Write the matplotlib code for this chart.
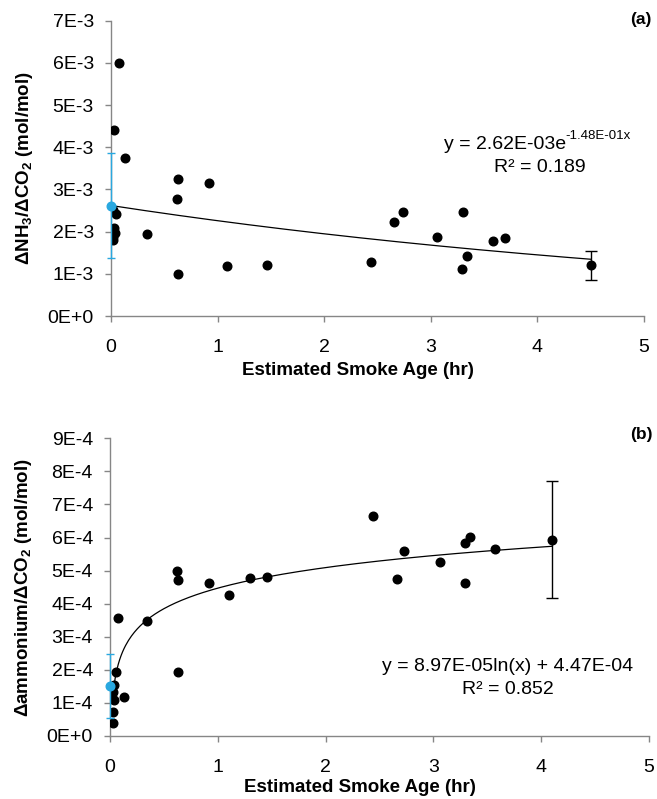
import numpy as np
import matplotlib
matplotlib.use("Agg")
import matplotlib.pyplot as plt

plt.rcParams['font.family'] = ['Liberation Sans', 'DejaVu Sans']
plt.rcParams['mathtext.fontset'] = 'custom'
plt.rcParams['mathtext.rm'] = 'Liberation Sans'
plt.rcParams['mathtext.bf'] = 'Liberation Sans:bold'
plt.rcParams['mathtext.default'] = 'bf'

# panel (a): NH3 / CO2 enhancement ratio vs smoke age
age_a = [0.075, 0.028, 0.13, 0.625, 0.92, 0.616, 0.02, 0.05, 0.025, 0.04, 0.015, 0.015,
         0.335, 0.63, 1.09, 1.46, 2.44, 2.66, 2.74, 3.06, 3.30, 3.34, 3.29, 3.58, 3.70, 4.50]
nh3_a = [5.99e-3, 4.41e-3, 3.74e-3, 3.24e-3, 3.16e-3, 2.78e-3, 2.51e-3, 2.42e-3, 2.08e-3,
         1.96e-3, 1.88e-3, 1.80e-3, 1.94e-3, 0.99e-3, 1.18e-3, 1.21e-3, 1.27e-3, 2.22e-3,
         2.46e-3, 1.87e-3, 2.47e-3, 1.43e-3, 1.12e-3, 1.78e-3, 1.84e-3, 1.20e-3]
# last point has an error bar
err_a_lo, err_a_hi = 0.35e-3, 0.35e-3
# source (blue) point at age 0
src_a, src_a_lo, src_a_hi = 2.62e-3, 1.25e-3, 1.25e-3
fit_a = (2.62e-3, -0.148)

# panel (b): ammonium / CO2
age_b = [0.074, 0.34, 0.62, 0.63, 0.92, 1.10, 1.30, 1.46, 0.63, 0.056, 0.034, 0.025,
         0.015, 0.04, 0.13, 0.025, 0.025, 2.44, 2.73, 2.66, 3.06, 3.29, 3.34, 3.29, 3.57, 4.10]
amm_b = [3.56e-4, 3.47e-4, 4.98e-4, 4.73e-4, 4.62e-4, 4.26e-4, 4.77e-4, 4.82e-4, 1.94e-4,
         1.94e-4, 1.53e-4, 1.34e-4, 1.14e-4, 1.09e-4, 1.17e-4, 0.73e-4, 0.38e-4, 6.66e-4,
         5.58e-4, 4.74e-4, 5.25e-4, 5.82e-4, 6.02e-4, 4.64e-4, 5.65e-4, 5.93e-4]
err_b_lo, err_b_hi = 1.76e-4, 1.78e-4
src_b, src_b_lo, src_b_hi = 1.51e-4, 0.98e-4, 0.97e-4
fit_b = (8.97e-5, 4.47e-4)

gray = '#868686'
blue = '#29A8E0'
TICK_FS = 14
LAB_FS = 13.5
EQ_FS = 14

fig = plt.figure(figsize=(6.57, 7.99), dpi=100)
ax1 = fig.add_axes([0.169, 0.6045, 0.811, 0.3695])
ax2 = fig.add_axes([0.1674, 0.0789, 0.8206, 0.3725])


def style(ax, xlab_y, ylab_x):
    for s in ['top', 'right']:
        ax.spines[s].set_visible(False)
    for s in ['left', 'bottom']:
        ax.spines[s].set_color(gray)
        ax.spines[s].set_linewidth(1.0)
    ax.tick_params(direction='out', length=4.3, width=1, color=gray, labelsize=TICK_FS)
    ax.tick_params(axis='x', pad=12)
    ax.tick_params(axis='y', pad=8)
    ax.set_xlim(0, 5)
    ax.set_xticks(range(6))
    ax.set_xlabel('Estimated Smoke Age (hr)', fontsize=LAB_FS, fontweight='bold', va='center')
    ax.xaxis.set_label_coords(0.463, xlab_y)
    ax.yaxis.label.set_va('center')
    ax.yaxis.set_label_coords(ylab_x, 0.5)


def equation(ax, x, y, main, sup):
    # main text with a small raised exponent after it
    t = ax.text(x, y, main, fontsize=EQ_FS, ha='left', va='baseline')
    fig.canvas.draw()
    bb = t.get_window_extent()
    ax.annotate(sup, xy=(bb.x1, bb.y0), xycoords='figure pixels', xytext=(-0.5, 9.5),
                textcoords='offset points', fontsize=9.5, ha='left', va='baseline')


# ---- panel a
ax = ax1
xf = np.linspace(0, 4.5, 200)
ax.plot(xf, fit_a[0] * np.exp(fit_a[1] * xf), color='black', lw=0.9, zorder=2)
ax.plot(age_a[:-1], nh3_a[:-1], 'o', color='black', ms=6.2, zorder=3)
ax.errorbar(age_a[-1], nh3_a[-1], yerr=[[err_a_lo], [err_a_hi]], fmt='o', color='black',
            ms=6.2, capsize=4, elinewidth=1, capthick=1, zorder=3)
ax.errorbar(0, src_a, yerr=[[src_a_lo], [src_a_hi]], fmt='o', color=blue, ms=6.2,
            capsize=3, elinewidth=1, capthick=1, zorder=4, clip_on=False)
ax.set_ylim(0, 7e-3)
ax.set_yticks(np.arange(0, 7.01e-3, 1e-3))
ax.set_yticklabels(['0E+0'] + ['%dE-3' % i for i in range(1, 8)])
ax.set_ylabel('ΔNH$_3$/ΔCO$_2$ (mol/mol)', fontsize=LAB_FS, fontweight='bold')
style(ax, -0.186, -0.163)
equation(ax, 3.12, 3.97e-3, 'y = 2.62E-03e', '-1.48E-01x')
ax.text(4.02, 3.53e-3, 'R² = 0.189', fontsize=EQ_FS, ha='center', va='center')
fig.text(0.992, 0.9756, '(a)', fontsize=12.5, fontweight='bold', ha='right', va='center')

# ---- panel b
ax = ax2
xf = np.linspace(0.022, 4.1, 300)
ax.plot(xf, fit_b[0] * np.log(xf) + fit_b[1], color='black', lw=0.9, zorder=2)
ax.plot(age_b[:-1], amm_b[:-1], 'o', color='black', ms=6.2, zorder=3)
ax.errorbar(age_b[-1], amm_b[-1], yerr=[[err_b_lo], [err_b_hi]], fmt='o', color='black',
            ms=6.2, capsize=4, elinewidth=1, capthick=1, zorder=3)
ax.errorbar(0, src_b, yerr=[[src_b_lo], [src_b_hi]], fmt='o', color=blue, ms=6.2,
            capsize=3, elinewidth=1, capthick=1, zorder=4, clip_on=False)
ax.set_ylim(0, 9e-4)
ax.set_yticks(np.arange(0, 9.01e-4, 1e-4))
ax.set_yticklabels(['0E+0'] + ['%dE-4' % i for i in range(1, 10)])
ax.set_ylabel('Δammonium/ΔCO$_2$ (mol/mol)', fontsize=LAB_FS, fontweight='bold')
style(ax, -0.1747, -0.16)
ax.text(3.69, 2.09e-4, 'y = 8.97E-05ln(x) + 4.47E-04', fontsize=EQ_FS, ha='center', va='center')
ax.text(3.69, 1.41e-4, 'R² = 0.852', fontsize=EQ_FS, ha='center', va='center')
fig.text(0.994, 0.4556, '(b)', fontsize=12.5, fontweight='bold', ha='right', va='center')

fig.savefig('out.png', dpi=100)
